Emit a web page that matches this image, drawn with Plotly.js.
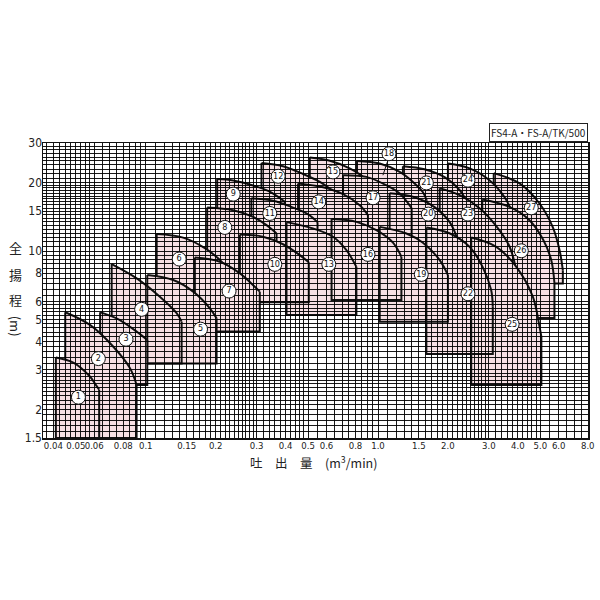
<!DOCTYPE html>
<html lang="ja">
<head>
<meta charset="utf-8">
<title>FS4-A・FS-A/TK/500</title>
<script src="https://cdn.plot.ly/plotly-3.0.1.min.js"></script>
<style>
  html, body { margin: 0; padding: 0; background: #ffffff; }
  #chart { width: 600px; height: 600px; }
</style>
</head>
<body>
<div id="chart"></div>
<script>
// 機種番号 ①〜㉗
const regionNames = [
  "1", "2", "3", "4", "5", "6", "7", "8", "9", "10", "11", "12", "13", "14",
  "15", "16", "17", "18", "19", "20", "21", "22", "23", "24", "25", "26", "27",
];

// 上辺カーブ（左上の角から右端まで）の吐出量 m3/min
const curveQ = [
  [0.041, 0.049, 0.0575, 0.0605, 0.063],
  [0.045, 0.0575, 0.0725, 0.0855, 0.0913],
  [0.0636, 0.07, 0.0774, 0.0914, 0.1015],
  [0.0713, 0.0914, 0.115, 0.1358, 0.1427],
  [0.1015, 0.1313, 0.16, 0.1888, 0.2018],
  [0.1114, 0.1448, 0.1796, 0.2085, 0.219],
  [0.1627, 0.2085, 0.2543, 0.2947, 0.3097],
  [0.1838, 0.238, 0.2897, 0.3311, 0.3656],
  [0.203, 0.238, 0.29, 0.342, 0.397],
  [0.2543, 0.3195, 0.39, 0.4604, 0.5034],
  [0.285, 0.3535, 0.426, 0.4985, 0.549],
  [0.315, 0.39, 0.476, 0.562, 0.631],
  [0.4036, 0.525, 0.64, 0.731, 0.807],
  [0.4527, 0.58, 0.707, 0.834, 0.905],
  [0.5085, 0.62, 0.755, 0.876, 0.949],
  [0.631, 0.807, 0.984, 1.16, 1.261],
  [0.707, 0.891, 1.086, 1.24, 1.396],
  [0.812, 1.017, 1.24, 1.414, 1.561, 1.62],
  [1.017, 1.325, 1.561, 1.843, 2.0],
  [1.122, 1.438, 1.752, 2.035, 2.2],
  [1.28, 1.587, 1.935, 2.248, 2.48],
  [1.615, 2.03, 2.48, 2.82, 3.07, 3.12],
  [1.843, 2.248, 2.737, 3.23, 3.68, 3.94, 4.0],
  [2.0, 2.48, 3.02, 3.507, 3.83],
  [2.52, 3.23, 3.94, 4.64, 4.96, 5.05],
  [2.811, 3.68, 4.49, 5.13, 5.57, 5.75],
  [3.15, 4.07, 4.96, 5.65, 6.05, 6.25],
];

// 上辺カーブの全揚程 m
const curveH = [
  [3.4, 3.22, 2.8, 2.6, 2.45],
  [5.38, 4.73, 3.79, 3.05, 2.57],
  [5.38, 5.2, 4.97, 4.42, 4.06],
  [8.77, 7.59, 6.3, 5.33, 4.89],
  [7.85, 7.46, 6.63, 5.6, 5.06],
  [11.9, 11.48, 10.32, 9.14, 8.6],
  [9.37, 8.98, 7.98, 6.97, 6.63],
  [15.59, 15.17, 14.17, 13.03, 11.98],
  [20.8, 20.5, 19.5, 18.3, 16.5],
  [11.86, 11.58, 10.73, 9.61, 8.93],
  [17.1, 16.7, 15.64, 14.57, 13.43],
  [24.5, 23.7, 21.9, 20.2, 18.6],
  [13.43, 12.6, 11.58, 10.11, 8.53],
  [19.9, 19.15, 17.84, 15.95, 14.43],
  [25.87, 25.05, 23.2, 20.97, 18.6],
  [13.85, 13.47, 12.38, 10.91, 9.45],
  [21.63, 21.27, 19.54, 17.96, 15.47],
  [25, 24.35, 22.37, 20.2, 18.2, 16.78],
  [12.8, 11.97, 10.9, 9.14, 7.85],
  [18, 17.3, 15.64, 13.43, 11.28],
  [23.7, 22.98, 21.2, 18.6, 15.64],
  [12.73, 12, 10.45, 8.53, 6.74, 5.69],
  [18.96, 17.66, 15.47, 12.9, 10.51, 8.25, 7.62],
  [24.35, 23.2, 20.56, 17.3, 14.43],
  [11.48, 10.45, 8.53, 6.3, 4.65, 4.2],
  [16.9, 15.68, 13.7, 11.28, 9.14, 7.22],
  [22.1, 19.9, 16.23, 12.8, 10.1, 8.25],
];

// 範囲の下限揚程 m
const bottomH = [
  1.5, 1.5, 2.57, 3.2, 3.2, 6.0, 4.42, 8.0, 11.5, 5.95, 8.2, 14, 5.23, 10.6,
  16.5, 6.09, 10.9, 14.8, 4.89, 10, 14, 3.52, 6.8, 13, 2.57, 5.08, 7.21,
];

// 丸番号の位置
const labelQ = [
  0.0513, 0.0625, 0.0822, 0.096, 0.1721, 0.1393, 0.2284, 0.219, 0.238, 0.3595,
  0.342, 0.3717, 0.614, 0.5555, 0.64, 0.9054, 0.952, 1.115, 1.536, 1.646, 1.615,
  2.44, 2.44, 2.44, 3.78, 4.14, 4.57,
];
const labelH = [
  2.27, 3.36, 4.09, 5.54, 4.53, 9.23, 6.67, 12.73, 17.84, 8.75, 14.67, 21.4,
  8.75, 16.5, 22.37, 9.68, 17.2, 26.9, 7.9, 14.57, 20, 6.49, 14.57, 20.56,
  4.76, 10.04, 15.53,
];

// ⑱ の引出線
const leaderQ = [1.104, 1.05];
const leaderH = [25.2, 21.63];

// 重なり順（後ろ → 手前）。同じ組は線がすべて見える
const drawLayers = [
  [27], [24], [21], [18], [15], [12], [9], [26], [23], [17, 20], [14], [11], [8],
  [25, 22, 19, 16, 13, 10], [6], [7], [4, 5], [3], [2], [1],
];

const xTickVals = [0.04, 0.05, 0.06, 0.08, 0.1, 0.15, 0.2, 0.3, 0.4, 0.5, 0.6, 0.8, 1, 1.5, 2, 3, 4, 5, 6, 8];
const xTickText = ["0.04", "0.05", "0.06", "0.08", "0.1", "0.15", "0.2", "0.3", "0.4", "0.5", "0.6", "0.8",
  "1.0", "1.5", "2.0", "3.0", "4.0", "5.0", "6.0", "8.0"];
const yTickVals = [1.5, 2, 3, 4, 5, 6, 8, 10, 15, 20, 30];
const yTickText = ["1.5", "2", "3", "4", "5", "6", "8", "10", "15", "20", "30"];

// 方眼紙の目盛り [開始, 終了, 間隔]
const xGridSegments = [
  [0.0375, 0.06, 0.0025], [0.06, 0.1, 0.005], [0.1, 0.3, 0.01], [0.3, 0.5, 0.02],
  [0.5, 1, 0.05], [1, 3, 0.1], [3, 5, 0.2], [5, 8, 0.5],
];
const yGridSegments = [
  [1.5, 3, 0.1], [3, 6, 0.2], [6, 10, 0.4], [10, 20, 0.5], [20, 30, 1],
];

const FILL = "#f6e0e4";
const INK = "#111111";
const NARROW = "'Liberation Sans Narrow', 'DejaVu Sans Condensed', 'Arial Narrow', sans-serif";
const CJK = "'Noto Sans CJK JP', 'Noto Sans', sans-serif";

function gridValues(segments) {
  const values = [];
  segments.forEach(([start, stop, step]) => {
    const count = Math.round((stop - start) / step);
    for (let i = 0; i <= count; i += 1) {
      values.push(Number((start + i * step).toFixed(5)));
    }
  });
  return [...new Set(values)];
}

function fillTrace(index) {
  const q = curveQ[index];
  const h = curveH[index];
  const q0 = q[0];
  const q1 = q[q.length - 1];
  const hb = bottomH[index];
  return {
    x: [q0, ...q, q1, q0],
    y: [hb, ...h, hb, hb],
    mode: "lines",
    type: "scatter",
    fill: "toself",
    fillcolor: FILL,
    line: { width: 0, color: FILL },
    hoverinfo: "skip",
  };
}

function edgeTrace(index) {
  const q = curveQ[index];
  const h = curveH[index];
  const q0 = q[0];
  const q1 = q[q.length - 1];
  const hb = bottomH[index];
  return {
    x: [q0, q0, q1, q1],
    y: [h[0], hb, hb, h[h.length - 1]],
    mode: "lines",
    type: "scatter",
    line: { width: 2, color: INK },
    hoverinfo: "skip",
  };
}

function curveTrace(index) {
  return {
    x: curveQ[index],
    y: curveH[index],
    mode: "lines",
    type: "scatter",
    line: { width: 2, color: INK, shape: "spline" },
    hoverinfo: "skip",
  };
}

function buildTraces() {
  const traces = [];
  drawLayers.forEach((layer) => {
    layer.forEach((number) => traces.push(fillTrace(number - 1)));
    layer.forEach((number) => {
      traces.push(edgeTrace(number - 1));
      traces.push(curveTrace(number - 1));
    });
  });

  traces.push({
    x: leaderQ,
    y: leaderH,
    xaxis: "x2",
    yaxis: "y2",
    mode: "lines",
    type: "scatter",
    line: { width: 1, color: INK },
    hoverinfo: "skip",
  });

  traces.push({
    x: labelQ,
    y: labelH,
    text: regionNames,
    xaxis: "x2",
    yaxis: "y2",
    mode: "markers+text",
    type: "scatter",
    textposition: "middle center",
    textfont: { family: NARROW, size: 9, color: INK },
    marker: { size: 14, color: "#ffffff", line: { width: 1, color: INK } },
    hoverinfo: "skip",
  });
  return traces;
}

const xRange = [Math.log10(0.0361), Math.log10(8.02)];
const yRange = [Math.log10(1.5), Math.log10(30)];

function labelAxis(range, tickvals, ticktext, anchor, size) {
  return {
    type: "log",
    range,
    domain: [0, 1],
    anchor,
    tickmode: "array",
    tickvals,
    ticktext,
    tickangle: 0,
    ticks: "",
    showgrid: false,
    zeroline: false,
    showline: false,
    tickfont: { family: NARROW, size, color: "#222222" },
  };
}

function gridAxis(range, gridvals, anchor) {
  return {
    type: "log",
    range,
    domain: [0, 1],
    anchor,
    tickmode: "array",
    tickvals: gridvals,
    showticklabels: false,
    ticks: "",
    showgrid: true,
    gridcolor: "#000000",
    gridwidth: 0.9,
    zeroline: false,
    showline: true,
    mirror: true,
    linecolor: INK,
    linewidth: 1.5,
  };
}

const yTitleChars = [
  { text: "全", y: 0.645, angle: 0 },
  { text: "揚", y: 0.555, angle: 0 },
  { text: "程", y: 0.468, angle: 0 },
  { text: "(m)", y: 0.38, angle: 90 },
];

const layout = {
  width: 600,
  height: 600,
  margin: { l: 43, r: 12, t: 143, b: 162 },
  paper_bgcolor: "#ffffff",
  plot_bgcolor: "rgba(0,0,0,0)",
  showlegend: false,
  xaxis: labelAxis(xRange, xTickVals, xTickText, "y", 9.5),
  yaxis: labelAxis(yRange, yTickVals, yTickText, "x", 12),
  xaxis2: gridAxis(xRange, gridValues(xGridSegments), "y2"),
  yaxis2: gridAxis(yRange, gridValues(yGridSegments), "x2"),
  annotations: [
    {
      text: "FS4-A・FS-A/TK/500",
      xref: "paper",
      yref: "paper",
      x: 1,
      y: 1.005,
      xanchor: "right",
      yanchor: "bottom",
      showarrow: false,
      bgcolor: "#ffffff",
      bordercolor: "#222222",
      borderwidth: 1,
      borderpad: 1,
      font: { family: CJK, size: 10, color: "#222222" },
    },
    {
      text: "吐　出　量　(m<sup>3</sup>/min)",
      xref: "paper",
      yref: "paper",
      x: 0.497,
      y: -0.084,
      xanchor: "center",
      yanchor: "middle",
      showarrow: false,
      font: { family: CJK, size: 12.5, color: "#222222" },
    },
    ...yTitleChars.map((item) => ({
      text: item.text,
      xref: "paper",
      yref: "paper",
      x: -0.051,
      y: item.y,
      xanchor: "center",
      yanchor: "middle",
      textangle: item.angle,
      showarrow: false,
      font: { family: CJK, size: 13, color: "#222222" },
    })),
  ],
};

Plotly.newPlot("chart", buildTraces(), layout, { displayModeBar: false, staticPlot: true });
</script>
</body>
</html>
